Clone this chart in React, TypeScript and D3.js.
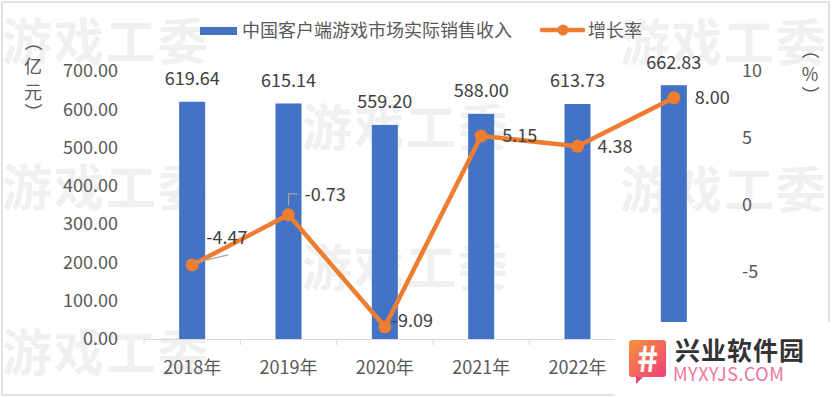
import React from 'react';
import * as d3 from 'd3';

const years = ['2018年', '2019年', '2020年', '2021年', '2022年', '2023年'];
const revenue = [619.64, 615.14, 559.2, 588.0, 613.73, 662.83];
const growth = [-4.47, -0.73, -9.09, 5.15, 4.38, 8.0];
const leftTicks = [0, 100, 200, 300, 400, 500, 600, 700];
const rightTicks = [-5, 0, 5, 10];
// label offsets (dx, dy) for the growth labels, relative to each point
const growthLabelOffsets: [number, number][] = [[14, -27], [16, -20], [7, -6], [21, 0], [20, 0], [21, 0]];
const watermarks: [number, number][] = [[2, 42], [620, 43], [302, 128], [2, 188], [620, 190], [302, 268], [2, 353]];

const W = 832;
const H = 398;
const FONT = '"Noto Sans CJK SC", "Noto Sans", sans-serif';

const App: React.FC = () => {
  const x = d3.scaleBand<string>().domain(years).range([144, 722]);
  const yL = d3.scaleLinear().domain([0, 700]).range([339, 71]);
  const yR = d3.scaleLinear().domain([-10, 10]).range([339, 71]);
  const barW = x.bandwidth() * 0.27;
  const cx = (d: string) => x(d)! + x.bandwidth() / 2;

  const pts = years.map((d, i) => [cx(d), yR(growth[i])] as [number, number]);
  const line = d3.line<[number, number]>()(pts);

  return (
    <div style={{ position: 'fixed', left: 0, top: 0 }}>
      <svg width={W} height={H} style={{ display: 'block', fontFamily: FONT }}>
        <rect x={0} y={0} width={W} height={H} fill="#fff" />
        <rect x={2} y={2} width={W - 5} height={H - 5} fill="none" stroke="#d9d9d9" strokeWidth={1.5} />

        {/* watermarks */}
        {watermarks.map(([wx, wy], i) => (
          <text key={i} x={wx} y={wy} dy="0.36em" fontSize={50} fontWeight="bold" fill="#f0f0f0" letterSpacing={2}>
            游戏工委
          </text>
        ))}

        {/* legend */}
        <rect x={200} y={27} width={37} height={8} fill="#4472C4" />
        <text x={242} y={31} dy="0.35em" fontSize={18} fill="#595959">中国客户端游戏市场实际销售收入</text>
        <line x1={542} x2={583} y1={30} y2={30} stroke="#ED7D31" strokeWidth={4.5} strokeLinecap="round" />
        <circle cx={563} cy={30} r={5.5} fill="#ED7D31" />
        <text x={588} y={31} dy="0.35em" fontSize={18} fill="#595959">增长率</text>

        {/* axis titles */}
        <g fontSize={18} fill="#595959" textAnchor="middle">
          <text x={33} y={42} dy="0.35em" transform="rotate(90 33 42)">（</text>
          <text x={33} y={67} dy="0.35em">亿</text>
          <text x={33} y={93} dy="0.35em">元</text>
          <text x={33} y={112} dy="0.35em" transform="rotate(90 33 112)">）</text>
          <text x={810} y={50} dy="0.35em" transform="rotate(90 810 50)">（</text>
          <text x={810} y={75} dy="0.35em">%</text>
          <text x={810} y={95} dy="0.35em" transform="rotate(90 810 95)">）</text>
        </g>

        {/* left ticks */}
        {leftTicks.map(t => (
          <text key={t} x={118} y={yL(t)} dy="0.35em" textAnchor="end" fontSize={18} fill="#595959">
            {t.toFixed(2)}
          </text>
        ))}
        {/* right ticks */}
        {rightTicks.map(t => (
          <text key={t} x={742} y={yR(t)} dy="0.35em" fontSize={18} fill="#595959">
            {t}
          </text>
        ))}

        {/* bars */}
        {years.map((d, i) => (
          <rect key={d} x={cx(d) - barW / 2} y={yL(revenue[i])} width={barW} height={yL(0) - yL(revenue[i])} fill="#4472C4" />
        ))}
        {years.map((d, i) => (
          <text key={d} x={cx(d)} y={yL(revenue[i]) - 23} dy="0.35em" textAnchor="middle" fontSize={18} fill="#404040">
            {revenue[i].toFixed(2)}
          </text>
        ))}

        {/* x axis */}
        <line x1={144} x2={722} y1={339.5} y2={339.5} stroke="#d9d9d9" strokeWidth={1} />
        {[...years.map(d => x(d)!), 722].map((t, i) => (
          <line key={i} x1={t} x2={t} y1={339.5} y2={345} stroke="#d9d9d9" />
        ))}
        {years.map(d => (
          <text key={d} x={cx(d)} y={368} dy="0.35em" textAnchor="middle" fontSize={18} fill="#595959">{d}</text>
        ))}

        {/* growth line */}
        <path d={line!} fill="none" stroke="#ED7D31" strokeWidth={4.5} strokeLinejoin="round" />
        {pts.map(([px, py], i) => (
          <circle key={i} cx={px} cy={py} r={6.5} fill="#ED7D31" />
        ))}
        {/* leader lines */}
        <line x1={pts[0][0] + 2} y1={pts[0][1] - 2} x2={pts[0][0] + 36} y2={pts[0][1] - 10} stroke="#a6a6a6" strokeWidth={1.2} />
        <polyline points={`${pts[1][0]},${pts[1][1] - 9} ${pts[1][0]},${pts[1][1] - 21} ${pts[1][0] + 9},${pts[1][1] - 21}`} fill="none" stroke="#a6a6a6" strokeWidth={1.2} />
        {pts.map(([px, py], i) => (
          <text key={i} x={px + growthLabelOffsets[i][0]} y={py + growthLabelOffsets[i][1]} dy="0.35em" fontSize={18} fill="#404040">
            {growth[i].toFixed(2)}
          </text>
        ))}

        {/* logo */}
        <rect x={615} y={322} width={217} height={76} fill="#fff" />
        <defs>
          <linearGradient id="lg" x1="0" y1="0" x2="1" y2="1">
            <stop offset="0" stopColor="#f7923a" />
            <stop offset="1" stopColor="#ee3f7a" />
          </linearGradient>
        </defs>
        <rect x={629} y={340} width={37} height={37} rx={3} fill="url(#lg)" />
        <path d="M 636 377 L 636 384 L 643 377 Z" fill="#ee3f7a" />
        <text x={647.5} y={359} dy="0.36em" textAnchor="middle" fontSize={36} fontWeight="bold" fill="#fff">#</text>
        <text x={675} y={351} dy="0.36em" fontSize={25} fontWeight="bold" fill="#333" letterSpacing={1}>兴业软件园</text>
        <text x={673} y={375} dy="0.36em" fontSize={18} fill="#f0759a" letterSpacing={0.5}>MYXYJS.COM</text>
      </svg>
    </div>
  );
};

export default App;
